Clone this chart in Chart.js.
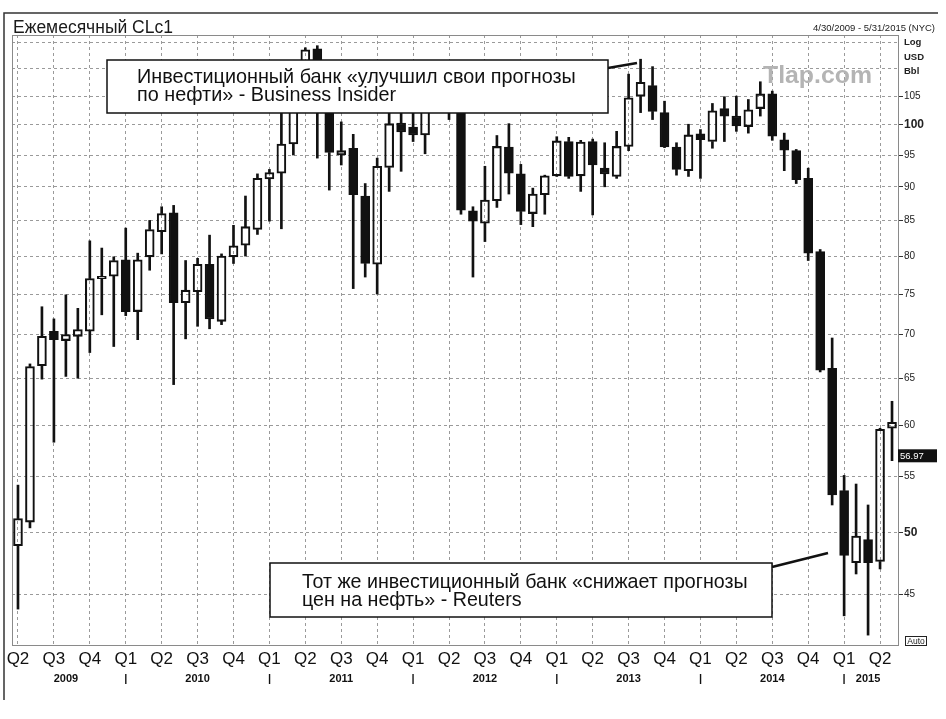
<!DOCTYPE html>
<html>
<head>
<meta charset="utf-8">
<script src="https://cdn.jsdelivr.net/npm/chart.js@4.4.1/dist/chart.umd.min.js"></script>
<style>
  html, body { margin: 0; padding: 0; background: #fff; }
  canvas { display: block; }
</style>
</head>
<body>
<canvas id="chart" width="946" height="719"></canvas>
<script>
// monthly CLc1 candles, Apr 2009 - May 2015
const months = [
  '2009-04','2009-05','2009-06','2009-07','2009-08','2009-09','2009-10','2009-11','2009-12',
  '2010-01','2010-02','2010-03','2010-04','2010-05','2010-06','2010-07','2010-08','2010-09','2010-10','2010-11','2010-12',
  '2011-01','2011-02','2011-03','2011-04','2011-05','2011-06','2011-07','2011-08','2011-09','2011-10','2011-11','2011-12',
  '2012-01','2012-02','2012-03','2012-04','2012-05','2012-06','2012-07','2012-08','2012-09','2012-10','2012-11','2012-12',
  '2013-01','2013-02','2013-03','2013-04','2013-05','2013-06','2013-07','2013-08','2013-09','2013-10','2013-11','2013-12',
  '2014-01','2014-02','2014-03','2014-04','2014-05','2014-06','2014-07','2014-08','2014-09','2014-10','2014-11','2014-12',
  '2015-01','2015-02','2015-03','2015-04','2015-05'
];
const opens = [
  48.9, 50.9, 66.4, 70.4, 69.3, 69.8, 70.4, 77.0, 77.3,
  79.5, 72.8, 79.9, 83.4, 86.1, 73.9, 75.3, 78.9, 71.6, 79.9, 81.5, 83.7,
  91.2, 92.1, 96.8, 106.7, 113.8, 102.7, 95.0, 96.1, 88.6, 78.9, 93.0, 100.3,
  99.6, 98.3, 107.1, 103.0, 104.9, 86.4, 84.6, 87.9, 96.3, 92.0, 86.0, 88.8,
  91.7, 97.2, 91.7, 97.2, 92.9, 91.6, 96.4, 105.0, 106.9, 102.1, 96.3, 92.5,
  98.5, 97.2, 102.8, 101.5, 99.7, 102.8, 105.4, 97.5, 95.7, 91.3, 80.6, 66.1,
  53.7, 47.5, 49.4, 47.6, 59.7
];
const highs = [
  54.2, 66.6, 73.4, 71.9, 74.9, 73.2, 82.1, 81.1, 79.9,
  83.9, 80.4, 85.0, 87.0, 87.2, 79.4, 79.7, 82.9, 80.3, 84.3, 88.6, 92.0,
  92.7, 103.4, 106.9, 114.0, 114.4, 103.0, 100.5, 98.4, 90.5, 94.5, 103.4, 102.4,
  103.7, 110.5, 110.5, 106.0, 106.3, 87.0, 93.2, 98.2, 100.2, 93.5, 89.8, 91.8,
  98.0, 97.9, 97.4, 97.6, 97.0, 98.9, 109.0, 111.8, 110.4, 104.1, 97.0, 100.1,
  99.2, 103.7, 104.9, 105.0, 104.4, 107.6, 105.9, 98.6, 95.9, 92.9, 80.9, 69.6,
  55.1, 54.3, 52.4, 59.7, 62.5
];
const lows = [
  43.9, 50.4, 64.9, 58.3, 65.2, 65.0, 67.9, 72.4, 68.6,
  72.3, 69.4, 78.1, 80.3, 64.3, 69.5, 71.0, 70.7, 71.2, 79.0, 80.0, 83.0,
  84.9, 83.8, 95.0, 105.0, 94.5, 89.5, 93.4, 75.7, 77.2, 75.0, 89.3, 92.4,
  97.2, 95.2, 102.2, 100.9, 85.9, 77.2, 82.0, 86.9, 88.9, 84.4, 84.1, 85.9,
  91.6, 91.3, 89.3, 85.8, 90.0, 91.3, 95.7, 102.1, 100.9, 96.2, 91.8, 91.6,
  91.3, 96.1, 97.2, 98.9, 98.6, 101.5, 97.4, 92.5, 90.5, 79.4, 65.7, 52.4,
  43.4, 46.6, 42.0, 47.0, 56.5
];
const closes = [
  51.2, 66.3, 69.8, 69.4, 70.0, 70.6, 77.0, 77.3, 79.4,
  72.8, 79.5, 83.7, 86.0, 73.9, 75.5, 78.9, 71.9, 80.0, 81.4, 84.1, 91.3,
  92.2, 96.8, 106.7, 113.6, 102.7, 95.4, 95.7, 88.8, 79.0, 93.2, 100.2, 98.8,
  98.3, 107.1, 103.0, 104.9, 86.5, 84.9, 88.0, 96.4, 92.1, 86.3, 88.9, 91.7,
  97.3, 91.6, 97.1, 93.4, 92.0, 96.4, 104.7, 107.5, 102.3, 96.3, 92.7, 98.3,
  97.5, 102.4, 101.5, 99.8, 102.6, 105.4, 98.1, 95.8, 91.1, 80.4, 65.9, 53.3,
  48.1, 49.7, 47.5, 59.6, 60.3
];

// axis labels
const quarterNames = { '01': 'Q1', '04': 'Q2', '07': 'Q3', '10': 'Q4' };
const yearLabels = { '2009-08': '2009', '2010-07': '2010', '2011-07': '2011', '2012-07': '2012',
                     '2013-07': '2013', '2014-07': '2014', '2015-03': '2015' };
const priceGrid = [45, 50, 55, 60, 65, 70, 75, 80, 85, 90, 95, 100, 105, 110, 115];
const priceLabels = [45, 50, 55, 60, 65, 70, 75, 80, 85, 90, 95, 100, 105];
const boldPrices = [50, 100];
const lastPrice = 56.97;

const FONT = '"Liberation Sans", Arial, sans-serif';
const INK = '#111';
const GRID = '#9a9a9a';

const notes = [
  { lines: ['Инвестиционный банк «улучшил свои прогнозы', 'по нефти» - Business Insider'],
    box: [107, 60, 501, 53], textX: 137, base: [82.5, 100.5], width: 439, pointer: [608, 68, 637, 63] },
  { lines: ['Тот же инвестиционный банк «снижает прогнозы', 'цен на нефть» - Reuters'],
    box: [270, 563, 502, 54], textX: 302, base: [588, 606], width: 446, pointer: [772, 567, 828, 553] }
];

function monthOf(i) { return months[i].slice(5); }

function fitFont(ctx, text, width, weight) {
  ctx.font = weight + ' 20px ' + FONT;
  const size = 20 * width / ctx.measureText(text).width;
  return weight + ' ' + size.toFixed(2) + 'px ' + FONT;
}

const decor = {
  id: 'decor',
  beforeDraw(chart) {
    const ctx = chart.ctx;
    ctx.save();
    ctx.fillStyle = '#fff';
    ctx.fillRect(0, 0, chart.width, chart.height);
    ctx.restore();
  },
  afterDraw(chart) {
    const ctx = chart.ctx, a = chart.chartArea, y = chart.scales.y;
    ctx.save();

    // plot frame
    ctx.strokeStyle = '#8a8a8a';
    ctx.lineWidth = 1;
    ctx.strokeRect(a.left + 0.5, a.top + 0.5, a.right - a.left, a.bottom - a.top);

    // outer frame (top + left)
    ctx.strokeStyle = '#333';
    ctx.lineWidth = 1.5;
    ctx.beginPath();
    ctx.moveTo(938, 13); ctx.lineTo(4, 13); ctx.lineTo(4, 700);
    ctx.stroke();

    // header
    ctx.fillStyle = '#1a1a1a';
    ctx.textBaseline = 'alphabetic';
    ctx.textAlign = 'left';
    ctx.font = fitFont(ctx, 'Ежемесячный CLc1', 160, 'normal');
    ctx.fillText('Ежемесячный CLc1', 13, 32.5);
    ctx.textAlign = 'right';
    ctx.font = fitFont(ctx, '4/30/2009 - 5/31/2015 (NYC)', 122, 'normal');
    ctx.fillText('4/30/2009 - 5/31/2015 (NYC)', 935, 30.5);

    // axis units
    ctx.textAlign = 'left';
    ctx.textBaseline = 'middle';
    ctx.font = 'bold 9.5px ' + FONT;
    ctx.fillStyle = '#222';
    ctx.fillText('Log', 904, 42);
    ctx.fillText('USD', 904, 57);
    ctx.fillText('Bbl', 904, 71);

    // watermark
    ctx.fillStyle = '#b4b4b4';
    ctx.font = fitFont(ctx, 'Tlap.com', 109, 'bold');
    ctx.fillText('Tlap.com', 763, 76);

    // last price marker
    const py = y.getPixelForValue(lastPrice);
    ctx.fillStyle = '#111';
    ctx.fillRect(898, py - 6.5, 39, 13);
    ctx.fillStyle = '#fff';
    ctx.font = '9.5px ' + FONT;
    ctx.fillText(lastPrice.toFixed(2), 900, py + 0.5);

    // Auto button
    ctx.strokeStyle = '#222';
    ctx.lineWidth = 1;
    ctx.strokeRect(905.5, 636.5, 21, 9);
    ctx.fillStyle = '#222';
    ctx.font = '8.5px ' + FONT;
    ctx.textAlign = 'center';
    ctx.fillText('Auto', 916, 641.5);

    // call-out boxes
    notes.forEach(n => {
      const [bx, by, bw, bh] = n.box;
      ctx.lineWidth = 2.5;
      ctx.strokeStyle = '#111';
      ctx.beginPath();
      ctx.moveTo(n.pointer[0], n.pointer[1]);
      ctx.lineTo(n.pointer[2], n.pointer[3]);
      ctx.stroke();
      ctx.fillStyle = '#fff';
      ctx.fillRect(bx, by, bw, bh);
      ctx.lineWidth = 1.5;
      ctx.strokeRect(bx, by, bw, bh);
      ctx.fillStyle = '#111';
      ctx.textAlign = 'left';
      ctx.textBaseline = 'alphabetic';
      ctx.font = fitFont(ctx, n.lines[0], n.width, 'normal');
      n.lines.forEach((t, k) => ctx.fillText(t, n.textX, n.base[k]));
    });

    ctx.restore();
  }
};

const bodyColors = opens.map((o, i) => closes[i] < o ? INK : 'rgba(255,255,255,0)');

new Chart(document.getElementById('chart'), {
  type: 'bar',
  data: {
    labels: months,
    datasets: [
      {
        label: 'body',
        data: opens.map((o, i) => [o, closes[i]]),
        backgroundColor: bodyColors,
        borderColor: INK,
        borderWidth: 1.4,
        borderSkipped: false,
        barThickness: 9,
        grouped: false,
        order: 0
      },
      {
        label: 'upper wick',
        data: opens.map((o, i) => [Math.max(o, closes[i]), highs[i]]),
        backgroundColor: INK,
        borderWidth: 0,
        barThickness: 2,
        grouped: false,
        order: 1
      },
      {
        label: 'lower wick',
        data: opens.map((o, i) => [lows[i], Math.min(o, closes[i])]),
        backgroundColor: INK,
        borderWidth: 0,
        barThickness: 2,
        grouped: false,
        order: 1
      }
    ]
  },
  options: {
    responsive: false,
    animation: false,
    devicePixelRatio: 1,
    layout: { padding: { left: 12, top: 35, right: 0, bottom: 0 } },
    plugins: { legend: { display: false }, tooltip: { enabled: false } },
    scales: {
      x: {
        type: 'category',
        offset: true,
        weight: 0,
        afterFit: s => { s.height = 24; },
        grid: {
          offset: false,
          drawTicks: false,
          color: c => quarterNames[monthOf(c.index)] ? GRID : 'rgba(0,0,0,0)'
        },
        border: { display: false, dash: [3, 3] },
        ticks: {
          autoSkip: false,
          maxRotation: 0,
          padding: 4,
          color: INK,
          font: { family: FONT, size: 17 },
          callback: (v, i) => quarterNames[monthOf(i)] || ''
        }
      },
      x2: {
        type: 'category',
        position: 'bottom',
        offset: true,
        weight: 1,
        afterFit: s => { s.height = 50; },
        grid: { display: false, drawTicks: false },
        border: { display: false },
        ticks: {
          autoSkip: false,
          maxRotation: 0,
          padding: 3,
          color: INK,
          font: { family: FONT, size: 11, weight: 'bold' },
          callback: (v, i) => yearLabels[months[i]] || (monthOf(i) === '01' ? '|' : '')
        }
      },
      y: {
        type: 'logarithmic',
        position: 'right',
        min: 41.3,
        max: 116.5,
        afterBuildTicks: s => { s.ticks = priceGrid.map(v => ({ value: v })); },
        afterFit: s => { s.width = 48; },
        grid: {
          color: GRID,
          drawTicks: true,
          tickLength: 5,
          tickColor: c => priceLabels.includes(c.tick.value) ? '#333' : 'rgba(0,0,0,0)',
          tickBorderDash: []
        },
        border: { display: false, dash: [3, 3] },
        ticks: {
          autoSkip: false,
          padding: 1,
          color: '#222',
          font: c => boldPrices.includes(c.tick.value)
            ? { family: FONT, size: 12, weight: 'bold' }
            : { family: FONT, size: 10 },
          callback: v => priceLabels.includes(v) ? String(v) : ''
        }
      }
    }
  },
  plugins: [decor]
});
</script>
</body>
</html>
